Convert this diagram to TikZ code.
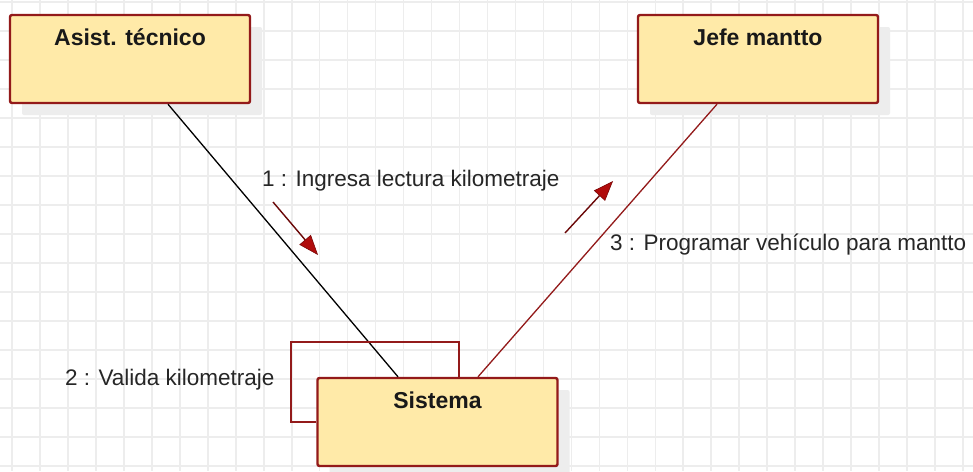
\documentclass[tikz,border=0pt]{standalone}
\usepackage{fontspec}
\setmainfont{Liberation Sans}
\usetikzlibrary{arrows.meta,shadows}
\definecolor{boxfill}{HTML}{FFEAA8}
\definecolor{boxline}{HTML}{931A1A}
\definecolor{msgred}{HTML}{B00C0C}
\definecolor{gridgray}{HTML}{EDEDED}
\tikzset{ box/.style = { rectangle % lifeline object
, draw = boxline
, line width = 2.4pt
, rounded corners = 2pt
, fill = boxfill
, minimum width = 240pt
, minimum height = 88pt
, drop shadow = {shadow xshift=12pt, shadow yshift=-12pt, fill=black!7, opacity=1}
}
, ttl/.style = { font = \fontsize{23}{27}\selectfont\bfseries % object name
, text = black!90
}
, msg/.style = { font = \fontsize{22.5}{26}\selectfont % message label
, text = black!85
, anchor = west
, inner sep = 0pt
}
, link/.style = { line width = 1.3pt }
, sig/.style = { draw = msgred!60!black % message arrow
, line width = 1.4pt
, -{Triangle[length=20pt, width=15pt, color=msgred!70!black, fill=msgred, line width=0.6pt]}
}
}

\begin{document}
\begin{tikzpicture}[x=1pt, y=-1pt]
    \useasboundingbox (0,0) rectangle (973,471);
    \fill[white] (0,0) rectangle (973,471);
    % grid
    \foreach \k in {0,...,34} \draw[gridgray, line width=1.6pt] (12+27.97*\k,0) -- (12+27.97*\k,471);
    \foreach \k in {0,...,16} \draw[gridgray, line width=1.6pt] (0,2+29*\k) -- (973,2+29*\k);

    \node[box] (asist) at (130,59) {};
    \node[box] (jefe) at (758,59) {};
    \node[box] (sist) at (437.5,422) {};
    \node[ttl] at ([yshift=-23]asist.north) {Asist. técnico};
    \node[ttl] at ([yshift=-23]jefe.north) {Jefe mantto};
    \node[ttl] at ([yshift=-23]sist.north) {Sistema};

    % links
    \draw[link, black] ([xshift=38]asist.south) -- ([xshift=-39.5]sist.north);
    \draw[link, boxline] ([xshift=-41]jefe.south) -- ([xshift=40.5]sist.north);
    \draw[boxline, line width=2pt] (sist.west) -- (291,422) -- (291,342) -- (459,342) -- ([xshift=21.5]sist.north);

    % messages
    \coordinate (m1a) at (273,202);
    \coordinate (m1b) at (318,255);
    \coordinate (m3a) at (565,233);
    \coordinate (m3b) at (613,181);
    \draw[sig] (m1a) -- (m1b);
    \draw[sig] (m3a) -- (m3b);
    \node[msg] (l1) at (262,181) {1 : Ingresa lectura kilometraje};
    \node[msg] (l2) at (65,380) {2 : Valida kilometraje};
    \node[msg] (l3) at (610,245) {3 : Programar vehículo para mantto};
\end{tikzpicture}
\end{document}
